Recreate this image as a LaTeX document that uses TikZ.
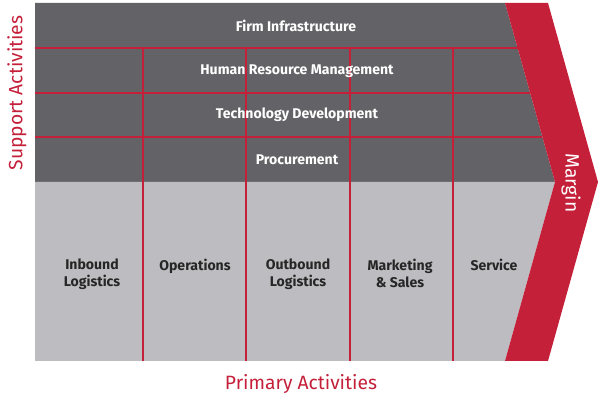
\documentclass[tikz,border=0pt]{standalone}
\usepackage{fontspec}
\setmainfont{Fira Sans}
\usetikzlibrary{positioning}
\definecolor{darkgrey}{HTML}{636367}
\definecolor{lightgrey}{HTML}{BDBDC1}
\definecolor{chainred}{HTML}{C4203A}

\begin{document}
\begin{tikzpicture}[x=0.025cm,y=-0.025cm,
    redline/.style={chainred,line width=0.9pt},
    support/.style={text=white,font=\bfseries\normalsize},
    primary/.style={text=black!85,font=\bfseries\normalsize,align=center,anchor=north},
    side/.style={text=chainred,font=\fontsize{13.7}{16}\selectfont}]
  \useasboundingbox (0,0) rectangle (600,400);
  % Draw the support and primary areas
  \fill[darkgrey] (35,3) -- (505,3) -- (555,182) -- (35,182) -- cycle;
  \fill[lightgrey] (35,182) -- (555,182) -- (505,361) -- (35,361) -- cycle;
  % Draw the margin chevron
  \fill[chainred] (505,3) -- (548,3) -- (598,182) -- (548,361)
    -- (505,361) -- (555,182) -- cycle;

  % Rows of the support activities
  \coordinate (r1) at (35,48);
  \coordinate (r2) at (35,93);
  \coordinate (r3) at (35,137);
  \draw[redline] (r1) -- (517.6,48);
  \draw[redline] (r2) -- (530.1,93);
  \draw[redline] (r3) -- (542.4,137);

  % Columns of the primary activities
  \foreach \x in {143,246,350,453}
    \draw[redline] (\x,48) coordinate (top\x) -- (\x,361) coordinate (bot\x);

  \node[support] (firm) at (296,26) {Firm Infrastructure};
  \node[support] (hrm) at (297,71) {Human Resource Management};
  \node[support] (tech) at (297,115) {Technology Development};
  \node[support] (proc) at (297,160) {Procurement};

  \node[primary] (inbound) at (92,254) {Inbound\\Logistics};
  \node[primary] (ops) at (195,254) {Operations};
  \node[primary] (outbound) at (298,254) {Outbound\\Logistics};
  \node[primary] (market) at (400,254) {Marketing\\\& Sales};
  \node[primary] (service) at (494,254) {Service};

  \node[side,rotate=90] (supportact) at (17,93) {Support Activities};
  \node[side] (primaryact) at (301,384) {Primary Activities};
  \node[side,text=white,rotate=-90] (margin) at (571,183) {Margin};
\end{tikzpicture}
\end{document}
